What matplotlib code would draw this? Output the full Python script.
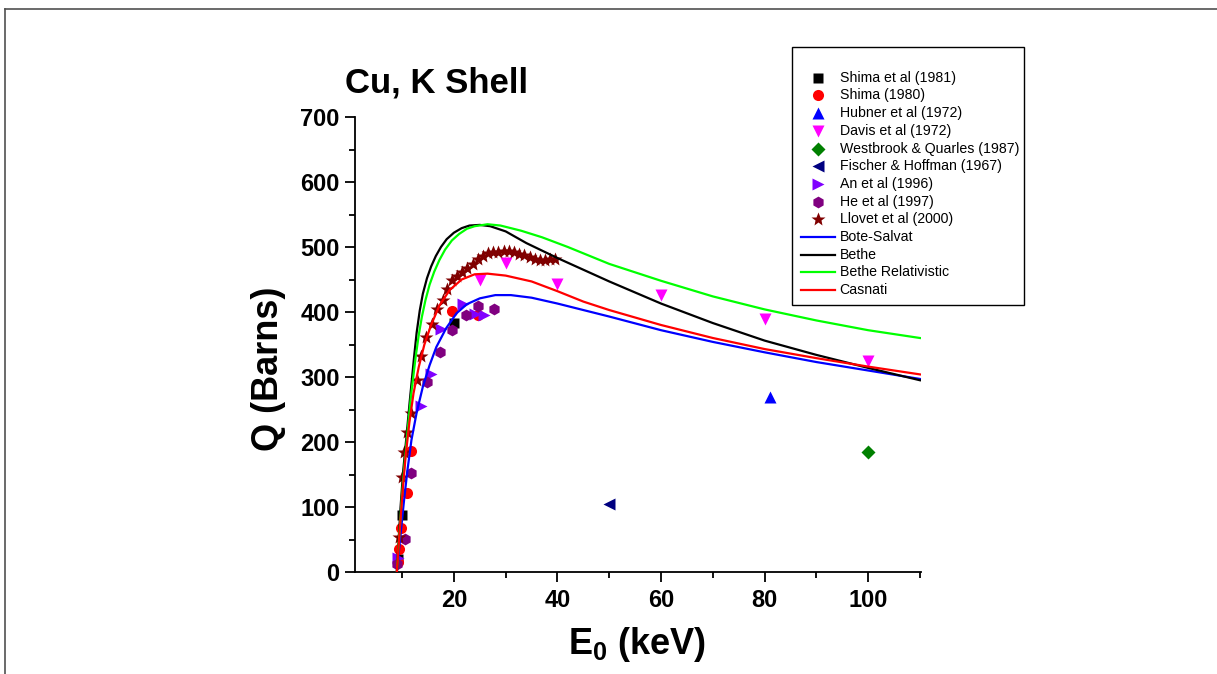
import matplotlib
matplotlib.use('Agg')
import matplotlib.pyplot as plt
from matplotlib.lines import Line2D
from matplotlib.patches import Rectangle
from matplotlib.ticker import MultipleLocator

W, H = 1217, 674
FONT = 'Liberation Sans'


def fx(x):
    return x / W


def fy(y):
    return 1 - y / H


shima81_E = [9.2, 9.9, 20.0]
shima81_Q = [20, 87, 383]
shima80_E = [9.2, 9.4, 9.86, 10.95, 11.8, 19.7, 24.7]
shima80_Q = [15, 35, 68, 121, 186, 402, 396]
hubner_E = [81]
hubner_Q = [270]
davis_E = [25, 30, 40, 60, 80, 100]
davis_Q = [449, 475, 443, 426, 389, 324]
westbrook_E = [100]
westbrook_Q = [185]
fischer_E = [50]
fischer_Q = [105]
an_E = [9.3, 13.7, 15.5, 17.6, 21.8, 24.0, 25.9]
an_Q = [21, 256, 304, 374, 413, 397, 395]
he_E = [9.1, 10.5, 11.8, 14.9, 17.3, 19.7, 22.3, 24.7, 27.7]
he_Q = [12, 51, 153, 292, 338, 373, 395, 409, 405]
llovet_E = [9.4, 9.9, 10.3, 11.0, 11.8, 12.8, 13.7, 14.7, 15.7, 16.7, 17.8, 18.6, 19.6,
            20.6, 21.6, 22.5, 23.6, 24.6, 25.6, 26.6, 27.6, 28.6, 29.6, 30.6, 31.6, 32.6,
            33.6, 34.6, 35.6, 36.6, 37.6, 38.6, 39.6]
llovet_Q = [54, 146, 185, 215, 244, 295, 332, 362, 381, 404, 419, 436, 449,
            456, 461, 467, 474, 481, 486, 491, 492, 493, 494, 494, 492, 490,
            487, 484, 482, 480, 480, 481, 482]

# theory curves
bote_E = [8.98, 9.6, 10.3, 11.0, 11.8, 12.8, 14.0, 15.3, 16.6, 18.5, 20.5, 22.5, 25, 28,
          31, 35, 40, 45, 50, 60, 70, 80, 90, 100, 110]
bote_Q = [0, 50, 105, 155, 203, 245, 285, 318, 346, 375, 398, 412, 421, 426,
          426, 422, 413, 403, 393, 372, 354, 338, 323, 310, 297]
bethe_E = [8.98, 9.3, 9.7, 10.2, 10.8, 11.5, 12.3, 12.8, 13.4, 14.0, 14.8, 15.6, 16.5,
           17.5, 18.6, 20.0, 21.5, 23.0, 25.0, 27.0, 30.0, 34.0, 40, 45, 50, 60, 70, 80,
           90, 100, 110]
bethe_Q = [0, 45, 100, 155, 205, 265, 330, 368, 402, 428, 452, 470, 486,
           500, 512, 522, 529, 533, 534, 532, 524, 506, 483, 465, 447, 413, 383, 356,
           334, 314, 295]
bethe_rel_E = [8.98, 9.4, 9.9, 10.4, 11.0, 11.7, 12.6, 13.2, 13.8, 14.5, 15.3, 16.2, 17.2,
               18.3, 19.6, 21.0, 22.5, 24.0, 26.5, 29, 33, 37, 42, 50, 60, 70, 80, 90,
               100, 110]
bethe_rel_Q = [0, 50, 110, 160, 212, 270, 330, 364, 392, 418, 442, 462, 480,
               496, 510, 520, 528, 532, 535, 533, 525, 515, 500, 474, 448, 424, 404, 387,
               372, 360]
casnati_E = [8.98, 9.5, 10.1, 10.7, 11.4, 12.2, 13.2, 14.3, 15.6, 17.2, 19.2, 21.5, 24,
             26.5, 30, 35, 40, 45, 50, 60, 70, 80, 90, 100, 110]
casnati_Q = [0, 60, 125, 180, 230, 275, 315, 350, 380, 410, 434, 450, 458,
             459, 456, 447, 432, 416, 403, 380, 360, 343, 329, 316, 304]

POINTS = [
    ('Shima et al (1981)', shima81_E, shima81_Q, 's', '#000000', 7),
    ('Shima (1980)', shima80_E, shima80_Q, 'o', '#ff0000', 8),
    ('Hubner et al (1972)', hubner_E, hubner_Q, '^', '#0000ff', 8.5),
    ('Davis et al (1972)', davis_E, davis_Q, 'v', '#ff00ff', 8.5),
    ('Westbrook & Quarles (1987)', westbrook_E, westbrook_Q, 'D', '#008000', 7),
    ('Fischer & Hoffman (1967)', fischer_E, fischer_Q, '<', '#000080', 8.5),
    ('An et al (1996)', an_E, an_Q, '>', '#8000ff', 8.5),
    ('He et al (1997)', he_E, he_Q, 'h', '#800080', 8.5),
    ('Llovet et al (2000)', llovet_E, llovet_Q, '*', '#800000', 10),
]
CURVES = [
    ('Bote-Salvat', bote_E, bote_Q, '#0000ff'),
    ('Bethe', bethe_E, bethe_Q, '#000000'),
    ('Bethe Relativistic', bethe_rel_E, bethe_rel_Q, '#00ff00'),
    ('Casnati', casnati_E, casnati_Q, '#ff0000'),
]

fig = plt.figure(figsize=(W / 100, H / 100), dpi=100)
fig.patch.set_facecolor('white')

ax = fig.add_axes([fx(355), fy(572), (921 - 355) / W, (572 - 117) / H])
ax.set_xlim(0.9, 110.2)
ax.set_ylim(0, 700)

for label, e, q, m, c, ms in POINTS:
    ax.plot(e, q, ls='none', marker=m, color=c, ms=ms, mec='none', zorder=3)
for label, e, q, c in CURVES:
    ax.plot(e, q, color=c, lw=1.6, zorder=4, solid_joinstyle='round')

for side in ('top', 'right'):
    ax.spines[side].set_visible(False)
for side in ('left', 'bottom'):
    ax.spines[side].set_linewidth(1.3)
ax.xaxis.set_major_locator(MultipleLocator(20))
ax.xaxis.set_minor_locator(MultipleLocator(10))
ax.yaxis.set_major_locator(MultipleLocator(100))
ax.yaxis.set_minor_locator(MultipleLocator(50))
ax.set_xticks([20, 40, 60, 80, 100])
ax.tick_params(which='major', direction='out', length=7, width=1.3, pad=4)
ax.tick_params(which='minor', direction='out', length=4, width=1.3)
ax.tick_params(axis='x', which='major', pad=5)
for t in ax.get_xticklabels() + ax.get_yticklabels():
    t.set_fontfamily(FONT)
    t.set_fontweight('bold')
    t.set_fontsize(17)

fig.text(fx(345), fy(92), 'Cu, K Shell', fontsize=25, fontweight='bold', family=FONT,
         ha='left', va='baseline')
fig.text(fx(268), fy(369), 'Q (Barns)', fontsize=26, fontweight='bold', family=FONT,
         rotation=90, ha='center', va='center')
fig.text(fx(637), fy(645), r'E$_\mathregular{0}$ (keV)', fontsize=26, fontweight='bold',
         family=FONT, ha='center', va='center')

# legend box drawn by hand
fig.add_artist(Rectangle((fx(791.5), fy(305)), (1024 - 791.5) / W, (305 - 47) / H,
                         transform=fig.transFigure, fill=False, ec='black', lw=1.0))
row_y = 77.7
for label, e, q, m, c, ms in POINTS:
    fig.add_artist(Line2D([fx(818)], [fy(row_y)], ls='none', marker=m, color=c, ms=ms,
                          mec='none', transform=fig.transFigure))
    fig.text(fx(839.5), fy(row_y), label, fontsize=10.2, family=FONT, ha='left', va='center')
    row_y += 17.7
for label, e, q, c in CURVES:
    fig.add_artist(Line2D([fx(801), fx(835)], [fy(row_y), fy(row_y)], color=c, lw=1.6,
                          transform=fig.transFigure))
    fig.text(fx(839.5), fy(row_y), label, fontsize=10.2, family=FONT, ha='left', va='center')
    row_y += 17.7

# outer frame
fig.add_artist(Line2D([fx(5), fx(W + 5)], [fy(9), fy(9)], color='#505050', lw=1.2,
                      transform=fig.transFigure))
fig.add_artist(Line2D([fx(5), fx(5)], [fy(9), fy(H + 5)], color='#505050', lw=1.2,
                      transform=fig.transFigure))

fig.savefig('out.png', dpi=100, facecolor='white')
